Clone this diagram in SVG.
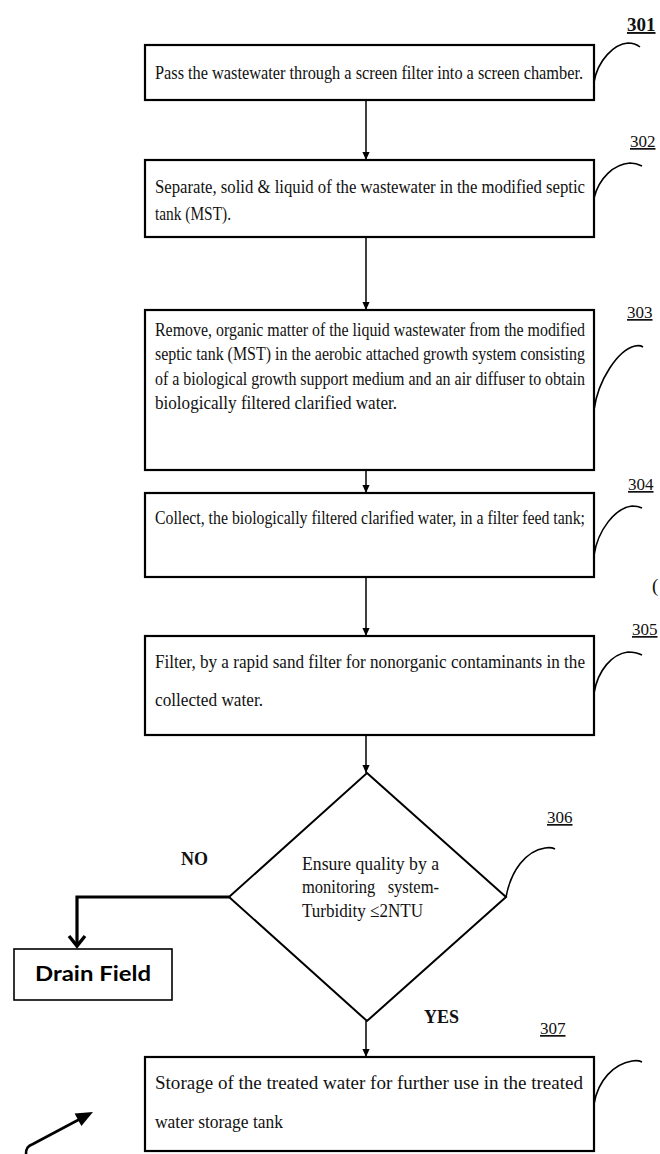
<svg xmlns="http://www.w3.org/2000/svg" width="660" height="1154" viewBox="0 0 660 1154">
<defs>
<marker id="ah" viewBox="0 0 10 10" refX="10" refY="5" markerWidth="8" markerHeight="9" markerUnits="userSpaceOnUse" orient="auto"><path d="M0,0.5 L10,5 L0,9.5 z" fill="#000"/></marker>
</defs>
<style>
.box{fill:#fff;stroke:#000;stroke-width:2.2}
.t{font-family:"Liberation Serif","Times New Roman",serif;font-size:15.6px;fill:#111}
.dt{font-family:"Liberation Serif","Times New Roman",serif;font-size:15.2px;fill:#111}
.lbl{font-family:"Liberation Serif","Times New Roman",serif;font-size:17px;fill:#111;text-decoration:underline}
.conn{stroke:#000;stroke-width:1.5;fill:none}
.lead{stroke:#000;stroke-width:1.6;fill:none}
.yn{font-family:"Liberation Serif","Times New Roman",serif;font-size:18px;font-weight:bold;fill:#111}
</style>
<rect width="660" height="1154" fill="#fff"/>

<g id="connectors">
<line class="conn" x1="366" y1="100" x2="366" y2="160" marker-end="url(#ah)"/>
<line class="conn" x1="366" y1="237" x2="366" y2="310" marker-end="url(#ah)"/>
<line class="conn" x1="366" y1="470" x2="366" y2="493" marker-end="url(#ah)"/>
<line class="conn" x1="366" y1="577" x2="366" y2="636" marker-end="url(#ah)"/>
<line class="conn" x1="366" y1="735" x2="366" y2="773" marker-end="url(#ah)"/>
<line class="conn" x1="366" y1="1021" x2="366" y2="1057" marker-end="url(#ah)"/>
<polyline points="229,897 77,897 77,945" fill="none" stroke="#000" stroke-width="3.2"/>
<polyline points="69,936 77,946 85,936" fill="none" stroke="#000" stroke-width="3.4"/>
<text class="yn" x="181" y="865">NO</text>
<text class="yn" x="424" y="1023">YES</text>
</g>

<g id="leaders">
<path class="lead" d="M594,82 C598,60 614,44 628,43 Q635,43 640,47"/>
<path class="lead" d="M594,198 C599,178 614,164 630,163 Q636,163 642,166"/>
<path class="lead" d="M594,410 C598,380 618,350 635,346 Q640,345 643,347"/>
<path class="lead" d="M594,555 C598,530 615,508 632,506 Q638,506 642,508"/>
<path class="lead" d="M594,693 C598,670 612,654 628,652 Q636,652 642,655"/>
<path class="lead" d="M506,897 C511,870 526,851 545,848 Q551,847 555,849"/>
<path class="lead" d="M594,1104 C598,1080 614,1064 632,1061 Q638,1060 642,1062"/>
</g>

<g id="n301">
<rect class="box" x="145" y="45" width="449" height="55"/>
<text class="t" transform="translate(155,79) scale(1,1.25)" textLength="428" lengthAdjust="spacingAndGlyphs">Pass the wastewater through a screen filter into a screen chamber.</text>
<text x="627" y="31" font-family="Liberation Serif, serif" font-size="19" font-weight="bold" text-decoration="underline" fill="#111">301</text>
</g>

<g id="n302">
<rect class="box" x="145" y="160" width="449" height="77"/>
<text class="t" transform="translate(155,193) scale(1,1.25)" textLength="430" lengthAdjust="spacingAndGlyphs">Separate, solid &amp; liquid of the wastewater in the modified septic</text>
<text class="t" transform="translate(155,220) scale(1,1.25)" textLength="76" lengthAdjust="spacingAndGlyphs">tank (MST).</text>
<text class="lbl" x="630" y="147">302</text>
</g>

<g id="n303">
<rect class="box" x="145" y="310" width="449" height="160"/>
<text class="t" transform="translate(155,336) scale(1,1.25)" textLength="430" lengthAdjust="spacingAndGlyphs">Remove, organic matter of the liquid wastewater from the modified</text>
<text class="t" transform="translate(155,360) scale(1,1.25)" textLength="430" lengthAdjust="spacingAndGlyphs">septic tank (MST) in the aerobic attached growth system consisting</text>
<text class="t" transform="translate(155,385) scale(1,1.25)" textLength="430" lengthAdjust="spacingAndGlyphs">of a biological growth support medium and an air diffuser to obtain</text>
<text class="t" transform="translate(155,409) scale(1,1.25)" textLength="242" lengthAdjust="spacingAndGlyphs">biologically filtered clarified water.</text>
<text class="lbl" x="627" y="318">303</text>
</g>

<g id="n304">
<rect class="box" x="145" y="493" width="449" height="84"/>
<text class="t" transform="translate(155,524) scale(1,1.25)" textLength="430" lengthAdjust="spacingAndGlyphs">Collect, the biologically filtered clarified water, in a filter feed tank;</text>
<text class="lbl" x="628" y="490">304</text>
<text x="652" y="592" font-family="Liberation Serif, serif" font-size="19" fill="#111">(</text>
</g>

<g id="n305">
<rect class="box" x="145" y="636" width="449" height="99"/>
<text class="t" transform="translate(155,668) scale(1,1.25)" textLength="430" lengthAdjust="spacingAndGlyphs">Filter, by a rapid sand filter for nonorganic contaminants in the</text>
<text class="t" transform="translate(155,706) scale(1,1.25)" textLength="108" lengthAdjust="spacingAndGlyphs">collected water.</text>
<text class="lbl" x="632" y="635">305</text>
</g>

<g id="n306">
<polygon points="367,773 506,897 367,1021 229,897" fill="#fff" stroke="#000" stroke-width="2"/>
<text class="dt" transform="translate(302,870) scale(1,1.25)" textLength="137" lengthAdjust="spacingAndGlyphs">Ensure quality by a</text>
<text class="dt" transform="translate(302,893) scale(1,1.25)" textLength="137" lengthAdjust="spacingAndGlyphs" xml:space="preserve">monitoring   system-</text>
<text class="dt" transform="translate(302,917) scale(1,1.25)" textLength="121" lengthAdjust="spacingAndGlyphs">Turbidity ≤2NTU</text>
<text class="lbl" x="547" y="823">306</text>
</g>

<g id="drain">
<rect x="14" y="949" width="158" height="51" fill="#fff" stroke="#000" stroke-width="1.6"/>
<text x="93" y="981" text-anchor="middle" font-family="Lato, 'Liberation Sans', sans-serif" font-size="20" font-weight="bold" fill="#000" textLength="116" lengthAdjust="spacingAndGlyphs">Drain Field</text>
</g>

<g id="n307">
<rect class="box" x="145" y="1057" width="449" height="94"/>
<text class="t" transform="translate(155,1089) scale(1,1.25)" textLength="428" lengthAdjust="spacingAndGlyphs">Storage of the treated water for further use in the treated</text>
<text class="t" transform="translate(155,1128) scale(1,1.25)" textLength="128" lengthAdjust="spacingAndGlyphs">water storage tank</text>
<text class="lbl" x="540" y="1034">307</text>
</g>

<g id="pointer">
<path d="M26,1154 C26,1148 28,1146 33,1144 L80,1119" fill="none" stroke="#000" stroke-width="2.6"/>
<polygon points="93,1112 81.4,1126 74.6,1113.6" fill="#000"/>
</g>
</svg>
